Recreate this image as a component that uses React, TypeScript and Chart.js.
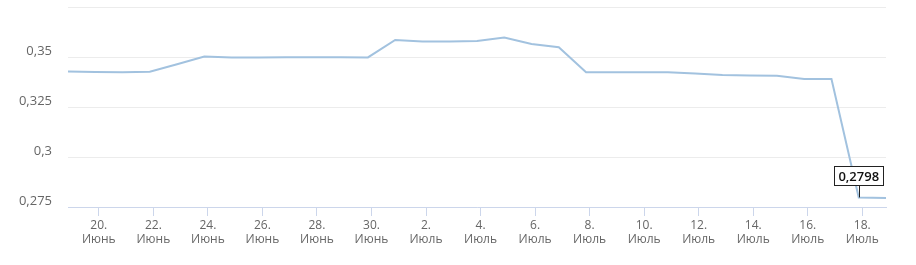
import React, { useEffect, useRef } from "react";
import { Chart, registerables } from "chart.js";

Chart.register(...registerables);

// Dates of observations (MM-DD) and values
const dates: string[] = [
  "06-19", "06-20", "06-21", "06-22", "06-23", "06-24", "06-25", "06-26",
  "06-27", "06-28", "06-29", "06-30", "07-01", "07-02", "07-03", "07-04",
  "07-05", "07-06", "07-07", "07-08", "07-09", "07-10", "07-11", "07-12",
  "07-13", "07-14", "07-15", "07-16", "07-17", "07-18", "07-19",
];
const values: number[] = [
  0.3427, 0.3425, 0.3424, 0.3426, 0.3464, 0.3502, 0.3498, 0.3498,
  0.3499, 0.3499, 0.3499, 0.3498, 0.3585, 0.3577, 0.3577, 0.358,
  0.3597, 0.3565, 0.3549, 0.3424, 0.3424, 0.3424, 0.3424, 0.3417,
  0.341, 0.3408, 0.3406, 0.339, 0.339, 0.2798, 0.2795,
];
const monthNames: string[] = ["Январь", "Февраль", "Март", "Апрель", "Май", "Июнь", "Июль", "Август", "Сентябрь", "Октябрь", "Ноябрь", "Декабрь"];
const yTicks: number[] = [0.275, 0.3, 0.325, 0.35, 0.375];
const labelIndex = 29;

const DAY = 86400000;
const YEAR = 2024;
const TZ_SHIFT = -0.13; // timestamps shown shifted by time zone (fraction of day)

function dayNumber(md: string): number {
  const [m, d] = md.split("-").map(Number);
  return Date.UTC(YEAR, m - 1, d) / DAY;
}
const xs = dates.map((d) => dayNumber(d) + TZ_SHIFT);
const fmt = (v: number) => String(Math.round(v * 10000) / 10000).replace(".", ",");

const callout = {
  id: "callout",
  afterDatasetsDraw(chart: any) {
    const meta = chart.getDatasetMeta(0);
    const pt = meta.data[labelIndex];
    if (!pt) return;
    const ctx = chart.ctx;
    const text = fmt(values[labelIndex]);
    ctx.save();
    ctx.font = "600 13px 'Open Sans'";
    const w = ctx.measureText(text).width + 8;
    const h = 19;
    const bottom = pt.y - 12;
    const left = pt.x - w / 2;
    ctx.strokeStyle = "#222";
    ctx.lineWidth = 1;
    ctx.beginPath();
    ctx.moveTo(Math.round(pt.x) + 0.5, pt.y);
    ctx.lineTo(Math.round(pt.x) + 0.5, bottom);
    ctx.stroke();
    ctx.fillStyle = "#fff";
    ctx.fillRect(left, bottom - h, w, h);
    ctx.strokeRect(Math.round(left) + 0.5, Math.round(bottom - h) + 0.5, Math.round(w), h);
    ctx.fillStyle = "#111";
    ctx.textAlign = "center";
    ctx.textBaseline = "middle";
    ctx.fillText(text, pt.x, bottom - h / 2 + 1);
    ctx.restore();
  },
};

export default function App() {
  const ref = useRef<HTMLCanvasElement>(null);
  useEffect(() => {
    if (!ref.current) return;
    const first = Math.ceil(xs[0]);
    const last = Math.floor(xs[xs.length - 1]);
    const chart = new Chart(ref.current, {
      type: "line",
      data: {
        datasets: [
          {
            data: xs.map((x, i) => ({ x, y: values[i] })),
            borderColor: "#a2c2df",
            borderWidth: 2,
            pointRadius: 0,
            tension: 0,
            fill: false,
          },
        ],
      },
      options: {
        animation: false,
        responsive: true,
        maintainAspectRatio: false,
        layout: { padding: { top: 7, right: 30, left: 0, bottom: 0 } },
        plugins: { legend: { display: false }, tooltip: { enabled: false } },
        scales: {
          x: {
            type: "linear",
            min: xs[0],
            max: xs[xs.length - 1],
            afterBuildTicks: (scale: any) => {
              const t: any[] = [];
              for (let d = first; d <= last; d++) {
                const dt = new Date(d * DAY);
                if (dt.getUTCDate() % 2 === 0) t.push({ value: d });
              }
              scale.ticks = t;
            },
            afterFit: (scale: any) => {
              scale.height = 58;
              scale.paddingLeft = 0;
              scale.paddingRight = 0;
            },
            border: { color: "#ccd6eb", width: 1 },
            grid: { drawOnChartArea: false, drawTicks: true, tickLength: 9, color: "#ccd6eb" },
            ticks: {
              autoSkip: false,
              maxRotation: 0,
              padding: 2,
              color: "#666",
              font: { family: "'Open Sans'", size: 12, lineHeight: 1.2 },
              callback: (v: any) => {
                const dt = new Date(Number(v) * DAY);
                return [dt.getUTCDate() + ".", monthNames[dt.getUTCMonth()]];
              },
            },
          },
          y: {
            min: yTicks[0],
            max: yTicks[yTicks.length - 1],
            afterBuildTicks: (scale: any) => {
              scale.ticks = yTicks.map((v) => ({ value: v }));
            },
            afterFit: (scale: any) => {
              scale.width = 68;
              scale.paddingTop = 0;
              scale.paddingBottom = 0;
            },
            border: { display: false },
            grid: { color: "#ececec", drawTicks: false },
            ticks: {
              padding: 16,
              labelOffset: -6,
              color: "#666",
              font: { family: "'Open Sans'", size: 13 },
              callback: (v: any) => (Number(v) >= 0.375 ? "" : fmt(Number(v))),
            },
          },
        },
      },
      plugins: [callout],
    });
    return () => chart.destroy();
  }, []);
  return (
    <div style={{ position: "fixed", left: 0, top: 0, width: 916, height: 265, background: "#fff" }}>
      <canvas ref={ref} />
    </div>
  );
}
